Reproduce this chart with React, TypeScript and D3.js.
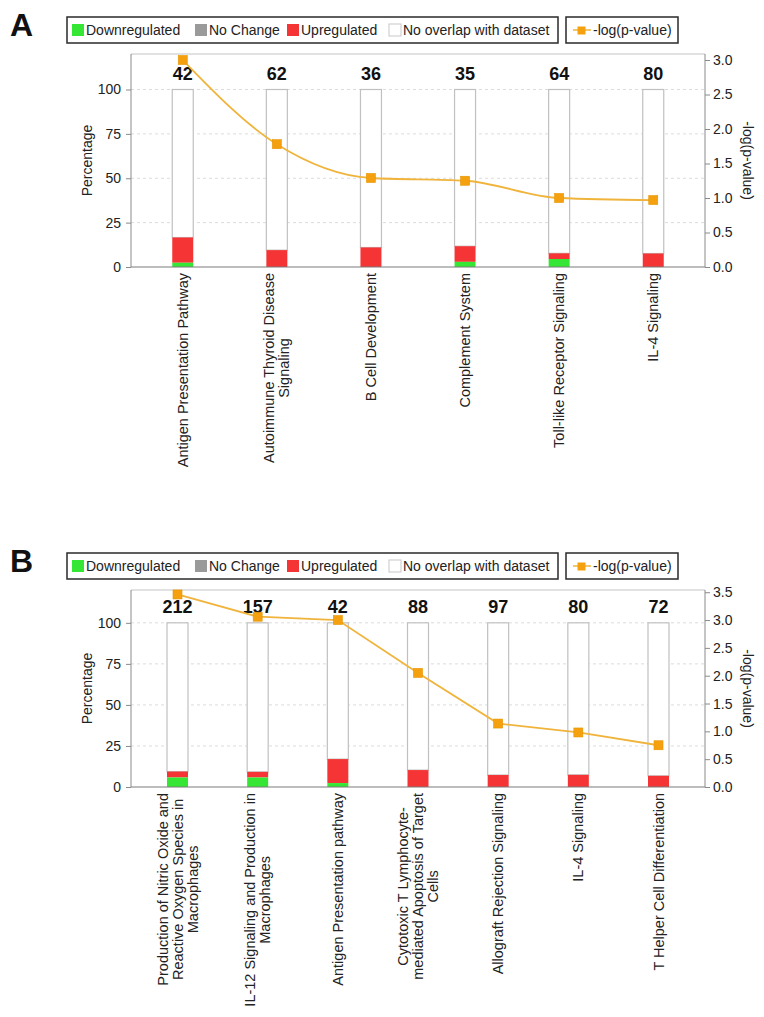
import React, { useEffect, useRef } from "react";
import * as d3 from "d3";

// ---------- DATA ----------
const catsA: string[][] = [
  ["Antigen Presentation Pathway"],
  ["Autoimmune Thyroid Disease", "Signaling"],
  ["B Cell Development"],
  ["Complement System"],
  ["Toll-like Receptor Signaling"],
  ["IL-4 Signaling"],
];
const countsA = [42, 62, 36, 35, 64, 80];
const downA = [2.4, 0, 0, 2.9, 4.5, 0];
const upA = [14.2, 9.5, 11.0, 8.8, 3.2, 7.6];
const pvalA = [3.0, 1.78, 1.29, 1.25, 1.0, 0.97];

const catsB: string[][] = [
  ["Production of Nitric Oxide and", "Reactive Oxygen Species in", "Macrophages"],
  ["IL-12 Signaling and Production in", "Macrophages"],
  ["Antigen Presentation pathway"],
  ["Cytotoxic T Lymphocyte-", "mediated Apoptosis of Target", "Cells"],
  ["Allograft Rejection Signaling"],
  ["IL-4 Signaling"],
  ["T Helper Cell Differentiation"],
];
const countsB = [212, 157, 42, 88, 97, 80, 72];
const downB = [5.8, 5.8, 2.4, 0, 0, 0, 0];
const upB = [3.6, 3.4, 14.6, 10.3, 7.3, 7.4, 6.8];
const pvalB = [3.46, 3.06, 3.0, 2.05, 1.14, 0.98, 0.75];

const pctTicks = [0, 25, 50, 75, 100];
const legendItems = ["Downregulated", "No Change", "Upregulated", "No overlap with dataset"];
const legendColors = ["#35e635", "#9a9a9a", "#f53535", "#ffffff"];

const FONT = "'Liberation Sans', Arial, Helvetica, sans-serif";
const GREEN = "#35e635";
const RED = "#f53535";
const ORANGE = "#f5a00f";
const LINE = "#f0b43c";

interface PanelCfg {
  letter: string;
  cats: string[][];
  counts: number[];
  down: number[];
  up: number[];
  pval: number[];
  top: number;
  bottom: number;
  legendTop: number;
  pMax: number;
  pTicks: number[];
  pad: number;
  curve: d3.CurveFactory;
}

const LEFT = 131;
const RIGHT = 705;

function drawPanel(svg: d3.Selection<SVGSVGElement, unknown, null, undefined>, c: PanelCfg) {
  const g = svg.append("g").attr("font-family", FONT);
  const x = d3.scalePoint<number>().domain(c.cats.map((_, i) => i)).range([LEFT, RIGHT]).padding(c.pad);
  const y = d3.scaleLinear().domain([0, 120]).range([c.bottom, c.top]);
  const yr = d3.scaleLinear().domain([0, c.pMax]).range([c.bottom, c.top]);

  // panel letter
  g.append("text").attr("x", 10).attr("y", c.legendTop + 19).attr("font-size", 32).attr("font-weight", "bold").attr("fill", "#111").text(c.letter);

  // legend
  const lt = c.legendTop;
  g.append("rect").attr("x", 67).attr("y", lt).attr("width", 491).attr("height", 26).attr("fill", "#fff").attr("stroke", "#2a2a2a").attr("stroke-width", 1.5);
  const legX = [72, 195, 287, 389];
  legendItems.forEach((t, i) => {
    g.append("rect").attr("x", legX[i]).attr("y", lt + 7).attr("width", 12).attr("height", 12)
      .attr("fill", legendColors[i]).attr("stroke", i === 3 ? "#c8c8c8" : "none");
    g.append("text").attr("x", legX[i] + 14).attr("y", lt + 18).attr("font-size", 14).attr("fill", "#222").text(t);
  });
  g.append("rect").attr("x", 566).attr("y", lt).attr("width", 112).attr("height", 26).attr("fill", "#fff").attr("stroke", "#2a2a2a").attr("stroke-width", 1.5);
  g.append("line").attr("x1", 573).attr("x2", 591).attr("y1", lt + 13).attr("y2", lt + 13).attr("stroke", LINE).attr("stroke-width", 1.5);
  g.append("rect").attr("x", 577.5).attr("y", lt + 9.5).attr("width", 8).attr("height", 8).attr("fill", ORANGE);
  g.append("text").attr("x", 593).attr("y", lt + 18).attr("font-size", 14).attr("fill", "#222").text("-log(p-value)");

  // gridlines
  g.selectAll(".grid").data(pctTicks.filter((t) => t > 0)).join("line")
    .attr("x1", LEFT).attr("x2", RIGHT).attr("y1", (d) => y(d)).attr("y2", (d) => y(d))
    .attr("stroke", "#dcdcdc").attr("stroke-dasharray", "3,3");

  // frame
  g.append("line").attr("x1", LEFT).attr("x2", RIGHT).attr("y1", c.top).attr("y2", c.top).attr("stroke", "#c4c4c4");
  g.append("line").attr("x1", LEFT).attr("x2", LEFT).attr("y1", c.top).attr("y2", c.bottom).attr("stroke", "#8a8a8a");
  g.append("line").attr("x1", RIGHT).attr("x2", RIGHT).attr("y1", c.top).attr("y2", c.bottom).attr("stroke", "#8a8a8a");

  // left axis
  const la = g.append("g").attr("transform", `translate(${LEFT},0)`)
    .call(d3.axisLeft(y).tickValues(pctTicks).tickSize(5).tickPadding(5));
  la.select(".domain").remove();
  la.selectAll("line").attr("stroke", "#8a8a8a");
  la.selectAll("text").attr("font-size", 14).attr("font-family", FONT).attr("fill", "#222");

  // right axis
  const ra = g.append("g").attr("transform", `translate(${RIGHT},0)`)
    .call(d3.axisRight(yr).tickValues(c.pTicks).tickSize(5).tickPadding(3).tickFormat(d3.format(".1f")));
  ra.select(".domain").remove();
  ra.selectAll("line").attr("stroke", "#8a8a8a");
  ra.selectAll("text").attr("font-size", 14).attr("font-family", FONT).attr("fill", "#222");

  // axis titles
  const mid = (c.top + c.bottom) / 2;
  g.append("text").attr("transform", `translate(87,${mid}) rotate(-90)`).attr("text-anchor", "middle").attr("dy", "0.35em")
    .attr("font-size", 14).attr("fill", "#222").text("Percentage");
  g.append("text").attr("transform", `translate(748,${mid}) rotate(90)`).attr("text-anchor", "middle").attr("dy", "0.35em")
    .attr("font-size", 14).attr("fill", "#222").text("-log(p-value)");

  // bars
  const bw = 21;
  c.cats.forEach((_, i) => {
    const cx = x(i) as number;
    const d = c.down[i];
    const u = c.up[i];
    g.append("rect").attr("x", cx - bw / 2).attr("y", y(100)).attr("width", bw).attr("height", y(d + u) - y(100))
      .attr("fill", "#fff").attr("stroke", "#c0c0c0").attr("stroke-width", 1.2);
    if (u > 0) g.append("rect").attr("x", cx - bw / 2).attr("y", y(d + u)).attr("width", bw).attr("height", y(d) - y(d + u)).attr("fill", RED);
    if (d > 0) g.append("rect").attr("x", cx - bw / 2).attr("y", y(d)).attr("width", bw).attr("height", y(0) - y(d)).attr("fill", GREEN);
    g.append("text").attr("x", cx).attr("y", y(100) - 9.5).attr("text-anchor", "middle").attr("font-size", 18)
      .attr("font-weight", "bold").attr("fill", "#111").text(String(c.counts[i]));
  });

  // bottom axis line
  g.append("line").attr("x1", LEFT).attr("x2", RIGHT).attr("y1", c.bottom).attr("y2", c.bottom).attr("stroke", "#7a7a7a");

  // category labels
  const lh = 15;
  c.cats.forEach((lines, i) => {
    const cx = x(i) as number;
    const lg = g.append("g");
    const ts = lines.map((ln) => lg.append("text").attr("font-size", 14.5).attr("fill", "#222").attr("text-anchor", "middle").text(ln));
    const w = Math.max(...ts.map((t) => (t.node() as SVGTextElement).getComputedTextLength()));
    const n = lines.length;
    ts.forEach((t, k) => {
      const off = (k - (n - 1) / 2) * lh;
      t.attr("transform", `translate(${cx + off},${c.bottom + 6 + w / 2}) rotate(-90)`).attr("dy", "0.35em");
    });
  });

  // line
  const line = d3.line<number>().x((_, i) => x(i) as number).y((d) => yr(d)).curve(c.curve);
  g.append("path").attr("d", line(c.pval) as string).attr("fill", "none").attr("stroke", LINE).attr("stroke-width", 1.8);
  c.pval.forEach((p, i) => {
    g.append("rect").attr("x", (x(i) as number) - 4.5).attr("y", yr(p) - 4.5).attr("width", 9).attr("height", 9)
      .attr("fill", ORANGE).attr("stroke", "#e69500").attr("stroke-width", 0.6);
  });
}

export default function App() {
  const ref = useRef<SVGSVGElement>(null);
  useEffect(() => {
    if (!ref.current) return;
    const svg = d3.select(ref.current);
    svg.selectAll("*").remove();
    drawPanel(svg, {
      letter: "A", cats: catsA, counts: countsA, down: downA, up: upA, pval: pvalA,
      top: 54, bottom: 267, legendTop: 17, pMax: 3.087, pTicks: [0, 0.5, 1, 1.5, 2, 2.5, 3], pad: 0.55,
      curve: d3.curveMonotoneX,
    });
    drawPanel(svg, {
      letter: "B", cats: catsB, counts: countsB, down: downB, up: upB, pval: pvalB,
      top: 590, bottom: 787, legendTop: 553, pMax: 3.54, pTicks: [0, 0.5, 1, 1.5, 2, 2.5, 3, 3.5], pad: 0.58,
      curve: d3.curveLinear,
    });
  }, []);
  return (
    <div style={{ position: "absolute", left: 0, top: 0 }}>
      <svg ref={ref} width={764} height={1017} style={{ display: "block", background: "#fff" }} />
    </div>
  );
}
